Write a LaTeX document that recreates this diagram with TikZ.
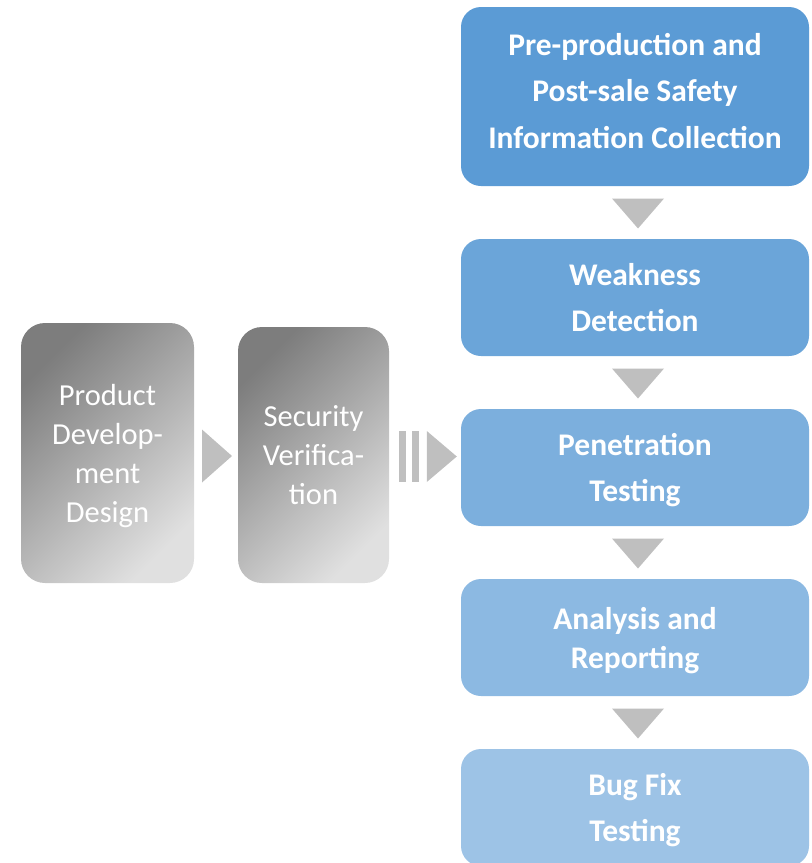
\documentclass[tikz,border=0pt]{standalone}
\usepackage{fontspec}
\setmainfont{Carlito}
\usetikzlibrary{calc}

\definecolor{blueA}{RGB}{91,155,213}
\definecolor{blueB}{RGB}{107,165,217}
\definecolor{blueC}{RGB}{124,175,221}
\definecolor{blueD}{RGB}{140,185,226}
\definecolor{blueE}{RGB}{157,195,230}
\definecolor{tipgray}{RGB}{191,191,191}
\definecolor{darkshade}{RGB}{125,125,125}
\definecolor{lightshade}{RGB}{224,224,224}

\tikzset{
  stage/.style={rounded corners=20pt, minimum width=348pt, minimum height=117pt,
    inner sep=0pt, text=white, align=center, text depth=0pt,
    font=\bfseries\fontsize{31.5}{46.5}\selectfont},
  phase/.style={rounded corners=24pt, inner sep=0pt, text=white, align=center,
    font=\fontsize{30.5}{39}\selectfont,
    top color=darkshade, bottom color=lightshade, shading angle=45}
}

\begin{document}
\begin{tikzpicture}[x=1pt, y=-1pt]
  \useasboundingbox (0,0) rectangle (812,863);

  % right column
  \node[stage, fill=blueA, minimum height=179pt, text depth=12pt] (collect) at (635,96.5)
    {Pre-production and\\Post-sale Safety\\Information Collection};
  \node[stage, fill=blueB] (weakness) at (635,297.5) {Weakness\\Detection};
  \node[stage, fill=blueC] (pentest) at (635,467.5) {Penetration\\Testing};
  \node[stage, fill=blueD, text depth=-4pt,
    font=\bfseries\fontsize{31.5}{39}\selectfont] (report) at (635,637.5) {Analysis and\\Reporting};
  \node[stage, fill=blueE] (bugfix) at (635,807.5) {Bug Fix\\Testing};

  % left boxes
  \node[phase, minimum width=173pt, minimum height=260pt, text depth=0pt] (design) at (107.5,453)
    {Product\\Develop-\\ment\\Design};
  \node[phase, minimum width=151pt, minimum height=256pt] (verify) at (313.5,455)
    {Security\\Verifica-\\tion};

  % down arrows
  \foreach \a/\b in {collect/weakness, weakness/pentest, pentest/report, report/bugfix} {
    \coordinate (m) at ($(\a.south)!0.5!(\b.north)+(3,1)$);
    \fill[tipgray] ($(m)+(-26,-15)$) -- ($(m)+(26,-15)$) -- ($(m)+(0,15)$) -- cycle;
  }

  % right arrows
  \coordinate (r1) at ($(design.east)!0.5!(verify.west)+(1,2)$);
  \fill[tipgray] ($(r1)+(-15,-26.5)$) -- ($(r1)+(15,0)$) -- ($(r1)+(-15,26.5)$) -- cycle;

  \coordinate (r2) at ($(pentest.west)+(-19,-11)$);
  \fill[tipgray] ($(r2)+(-15,-25.5)$) -- ($(r2)+(15,0)$) -- ($(r2)+(-15,25.5)$) -- cycle;
  \fill[tipgray] ($(r2)+(-43,-25.5)$) rectangle ($(r2)+(-36,25.5)$);
  \fill[tipgray] ($(r2)+(-30,-25.5)$) rectangle ($(r2)+(-23,25.5)$);
\end{tikzpicture}
\end{document}
